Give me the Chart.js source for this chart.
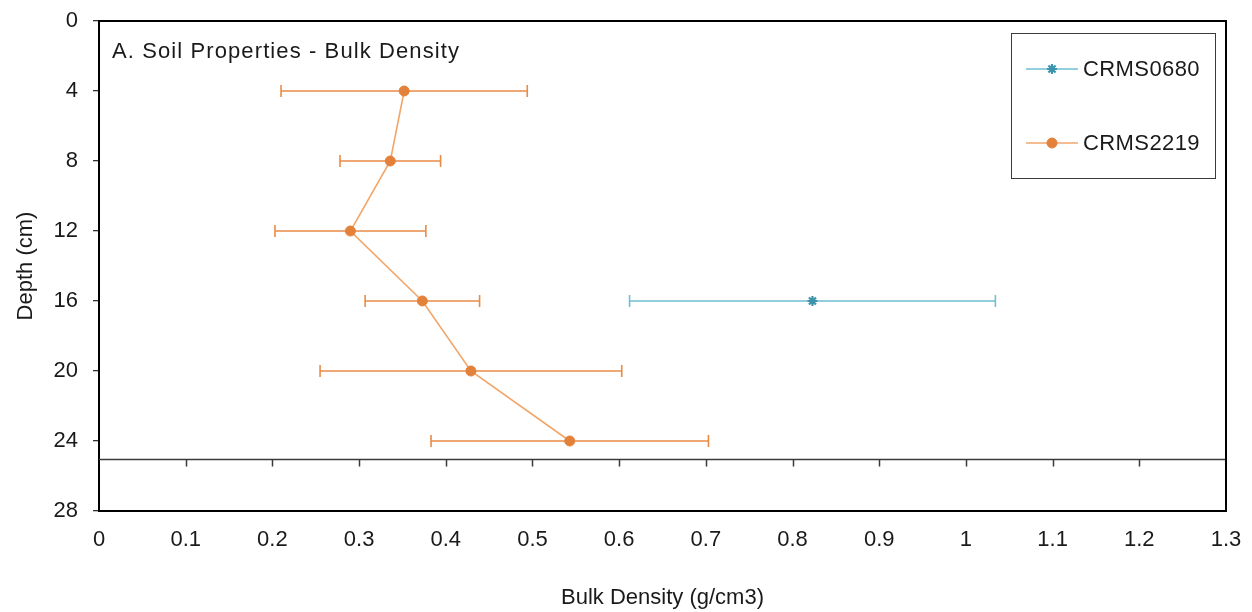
<!DOCTYPE html>
<html><head><meta charset="utf-8">
<script src="https://cdn.jsdelivr.net/npm/chart.js@4"></script>
<style>html,body{margin:0;padding:0;background:#fff}#wrap{width:1252px;height:612px}</style>
</head><body><div id="wrap"><canvas id="c" width="1252" height="612"></canvas></div>
<script>
// ---- data ----
const chartTitle = 'A. Soil Properties - Bulk Density';
const seriesNames = ['CRMS0680', 'CRMS2219'];
const depth0680 = [16];
const bd0680 = [0.823];
const err0680 = [0.211];
const depth2219 = [4, 8, 12, 16, 20, 24];
const bd2219 = [0.352, 0.336, 0.290, 0.373, 0.429, 0.543];
const err2219 = [0.142, 0.058, 0.087, 0.066, 0.174, 0.160];
const xTicks = [0, 0.1, 0.2, 0.3, 0.4, 0.5, 0.6, 0.7, 0.8, 0.9, 1, 1.1, 1.2, 1.3];
const yTicks = [0, 4, 8, 12, 16, 20, 24, 28];
const xTitle = 'Bulk Density (g/cm3)';
const yTitle = 'Depth (cm)';
const crossDepth = 25;

const FONT = '"Liberation Sans", Arial, sans-serif';
const FS = 22;
const TXT = '#1a1a1a';
const blueLine = '#6fbfd2', blueMark = '#3b93ac';
const orLine = '#f2a66a', orMark = '#e3813a', orErr = '#ea8b45';

const ds0680 = depth0680.map((d, i) => ({x: bd0680[i], y: d, err: err0680[i]}));
const ds2219 = depth2219.map((d, i) => ({x: bd2219[i], y: d, err: err2219[i]}));

const errorBars = {
  id: 'errorBars',
  beforeDatasetsDraw(chart) {
    const {ctx, scales: {x, y}} = chart;
    chart.data.datasets.forEach((ds) => {
      ctx.save();
      ctx.strokeStyle = ds.errColor;
      ctx.lineWidth = 1.6;
      ds.data.forEach(p => {
        const py = y.getPixelForValue(p.y);
        const x1 = x.getPixelForValue(p.x - p.err), x2 = x.getPixelForValue(p.x + p.err);
        ctx.beginPath();
        ctx.moveTo(x1, py); ctx.lineTo(x2, py);
        ctx.moveTo(x1, py - 6); ctx.lineTo(x1, py + 6);
        ctx.moveTo(x2, py - 6); ctx.lineTo(x2, py + 6);
        ctx.stroke();
      });
      ctx.restore();
    });
  }
};

const frame = {
  id: 'frame',
  beforeDatasetsDraw(chart) {
    const {ctx, chartArea: a, scales: {x, y}} = chart;
    ctx.save();
    const cy = Math.round(y.getPixelForValue(crossDepth)) + 0.5;
    ctx.strokeStyle = '#3a3a3a';
    ctx.lineWidth = 1.5;
    ctx.beginPath();
    ctx.moveTo(a.left, cy); ctx.lineTo(a.right, cy);
    xTicks.forEach(v => {
      if (v === xTicks[0] || v === xTicks[xTicks.length - 1]) return;
      const px = Math.round(x.getPixelForValue(v)) + 0.5;
      ctx.moveTo(px, cy); ctx.lineTo(px, cy + 7);
    });
    ctx.stroke();
    ctx.restore();
  },
  afterDraw(chart) {
    const {ctx, chartArea: a} = chart;
    ctx.save();
    ctx.strokeStyle = '#000';
    ctx.lineWidth = 2;
    ctx.beginPath();
    ctx.moveTo(a.left, a.top); ctx.lineTo(a.right, a.top); ctx.lineTo(a.right, a.bottom);
    ctx.stroke();
    // inner title
    ctx.fillStyle = TXT;
    ctx.font = FS + 'px ' + FONT;
    ctx.textBaseline = 'middle';
    ctx.textAlign = 'left';
    ctx.letterSpacing = '1.1px';
    ctx.fillText(chartTitle, a.left + 13, a.top + 31);
    ctx.letterSpacing = '0.4px';
    // legend
    const bx = a.right - 215, by = a.top + 12, bw = 204, bh = 145;
    ctx.strokeStyle = '#3a3a3a';
    ctx.lineWidth = 1;
    ctx.strokeRect(bx + 0.5, by + 0.5, bw, bh);
    const rows = [by + 36, by + 110];
    chart.data.datasets.forEach((ds, i) => {
      const ry = rows[i];
      ctx.strokeStyle = ds.borderColor;
      ctx.lineWidth = 1.5;
      ctx.beginPath(); ctx.moveTo(bx + 15, ry); ctx.lineTo(bx + 67, ry); ctx.stroke();
      ctx.fillStyle = ds.pointBackgroundColor;
      ctx.strokeStyle = ds.pointBorderColor;
      ctx.lineWidth = ds.pointBorderWidth;
      Chart.helpers.drawPoint(ctx, {pointStyle: ds.pointStyle, radius: ds.pointRadius, borderWidth: ds.pointBorderWidth, rotation: 0}, bx + 41, ry);
      ctx.fillStyle = TXT;
      ctx.font = FS + 'px ' + FONT;
      ctx.fillText(ds.label, bx + 72, ry + 1);
    });
    ctx.restore();
  }
};

const zeroPad = s => { s.paddingTop = 0; s.paddingBottom = 0; s.paddingLeft = 0; s.paddingRight = 0; };

new Chart(document.getElementById('c'), {
  type: 'scatter',
  data: {
    datasets: [
      {label: seriesNames[0], data: ds0680, showLine: true, borderColor: blueLine, borderWidth: 1.5,
       pointStyle: 'star', pointRadius: 5, pointBorderColor: blueMark, pointBackgroundColor: blueMark, pointBorderWidth: 2.2,
       errColor: blueLine},
      {label: seriesNames[1], data: ds2219, showLine: true, borderColor: orLine, borderWidth: 1.6,
       pointStyle: 'circle', pointRadius: 5, pointBorderColor: orMark, pointBackgroundColor: orMark, pointBorderWidth: 1,
       errColor: orErr}
    ]
  },
  options: {
    responsive: false,
    animation: false,
    devicePixelRatio: 1,
    layout: {padding: {top: 21, right: 26, bottom: 1, left: 0}},
    plugins: {legend: {display: false}, tooltip: {enabled: false}},
    scales: {
      x: {
        type: 'linear', position: 'bottom', min: 0, max: 1.3,
        afterBuildTicks: s => { s.ticks = xTicks.map(v => ({value: v})); },
        afterFit: s => { s.height = 100; zeroPad(s); },
        grid: {display: true, drawOnChartArea: false, drawTicks: false},
        border: {display: true, color: '#000', width: 2},
        ticks: {padding: 16, color: TXT, font: {family: FONT, size: FS}, maxRotation: 0, autoSkip: false,
                callback: v => String(Number(v.toFixed(1)))},
        title: {display: true, text: xTitle, color: TXT, font: {family: FONT, size: FS}, padding: {top: 0, bottom: 0}}
      },
      y: {
        type: 'linear', reverse: true, min: 0, max: 28,
        afterBuildTicks: s => { s.ticks = yTicks.map(v => ({value: v})); },
        afterFit: s => { s.width = 99; zeroPad(s); },
        grid: {display: true, drawOnChartArea: false, drawTicks: true, tickLength: 6, tickColor: '#333', lineWidth: 1.3},
        border: {display: true, color: '#000', width: 2},
        ticks: {padding: 15, color: TXT, font: {family: FONT, size: FS}, autoSkip: false},
        title: {display: true, text: yTitle, color: TXT, font: {family: FONT, size: FS}, padding: {top: 13, bottom: 0}}
      }
    }
  },
  plugins: [errorBars, frame]
});
</script>
</body></html>
